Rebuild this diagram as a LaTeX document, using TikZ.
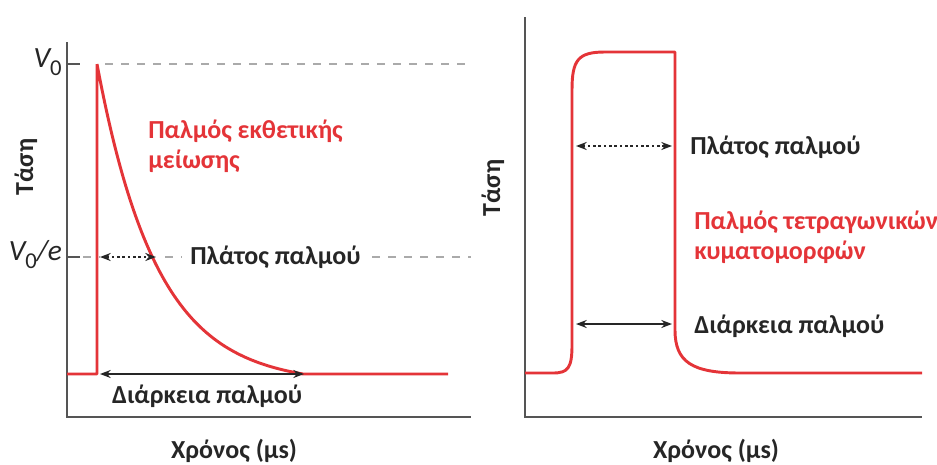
\documentclass[tikz,border=0pt]{standalone}
\usepackage{fontspec}
\setmainfont{Carlito}
\usetikzlibrary{arrows.meta}
\definecolor{pulsered}{RGB}{228,52,56}
\definecolor{axisgray}{RGB}{85,85,85}
\definecolor{dashgray}{RGB}{170,170,170}
\tikzset{
  axisline/.style={draw=axisgray,line width=1.5pt},
  refline/.style={draw=dashgray,line width=1.1pt,dash pattern=on 6pt off 6pt},
  pulse/.style={draw=pulsered,line width=2.2pt,line join=round},
  durarrow/.style={draw=black!85,line width=1.4pt,{Stealth[length=8pt,width=6pt]}-{Stealth[length=8pt,width=6pt]}},
  widarrow/.style={draw=black!85,line width=1.4pt,dash pattern=on 2pt off 2pt,{Stealth[length=8pt,width=6pt]}-{Stealth[length=8pt,width=6pt]}},
  lbl/.style={font=\fontsize{19.5}{22}\selectfont\bfseries,text=black!85,inner sep=0pt},
  redlbl/.style={font=\fontsize{19.5}{22.5}\selectfont\bfseries,text=pulsered,inner sep=0pt,align=left},
  vlbl/.style={font=\fontsize{22}{24}\selectfont\itshape,text=black!85,inner sep=0pt},
}
\begin{document}
\begin{tikzpicture}[x=0.75pt,y=-0.75pt]
\useasboundingbox (0,0) rectangle (937,464);
% ---------- left panel ----------
\draw[refline] (105,64) -- (471,64);
\draw[refline] (67,257) -- (100,257);
\draw[refline] (165,257) -- (182,257);
\draw[refline] (372,257) -- (471,257);
\draw[axisline] (67,42) -- (67,417) -- (471,417);
\draw[axisline] (67,64) -- (80,64);
\draw[axisline] (67,257) -- (80,257);
\draw[pulse] (67,374) -- (97,374) -- (97,64)
  plot[domain=0:206,samples=80,smooth] ({97+\x},{374-310*(exp(-\x/60)-exp(-206/60))/(1-exp(-206/60))})
  -- (448,374);
\node[vlbl,anchor=east] (v0) at (62,62) {V\raisebox{-6pt}{\fontsize{17}{17}\selectfont\upshape 0}};
\node[vlbl,anchor=east] (v0e) at (62,255) {V\raisebox{-6pt}{\fontsize{17}{17}\selectfont\upshape 0}/e};
\node[lbl,rotate=90] (tasi1) at (26,167) {Τάση};
\node[redlbl,anchor=west] (exp) at (148,146) {Παλμός εκθετικής\\μείωσης};
\coordinate (la1) at (100,257);
\coordinate (la2) at (156,257);
\draw[widarrow] (la1) -- (la2);
\node[lbl,anchor=west] (plat1) at (190,257) {Πλάτος παλμού};
\coordinate (ld1) at (100,374);
\coordinate (ld2) at (304,374);
\draw[durarrow] (ld1) -- (ld2);
\node[lbl] (diar1) at (207,396) {Διάρκεια παλμού};
\node[lbl] (xron1) at (234,451) {Χρόνος (μs)};
% ---------- right panel ----------
\draw[axisline] (525,17) -- (525,417) -- (922,417);
\draw[pulse] (525,373) -- (553,373) .. controls (568,373) and (572,368) .. (572,345)
  -- (572,90) .. controls (572,60) and (578,52) .. (605,52) -- (675,52) -- (675,330)
  .. controls (675,362) and (692,373) .. (740,373) -- (922,373);
\node[lbl,rotate=90] (tasi2) at (493,188) {Τάση};
\coordinate (ra1) at (576,146);
\coordinate (ra2) at (672,146);
\draw[widarrow] (ra1) -- (ra2);
\node[lbl,anchor=west] (plat2) at (690,147) {Πλάτος παλμού};
\node[redlbl,anchor=west] (sq) at (694,237) {Παλμός τετραγωνικών\\κυματομορφών};
\coordinate (rd1) at (576,324);
\coordinate (rd2) at (672,324);
\draw[durarrow] (rd1) -- (rd2);
\node[lbl,anchor=west] (diar2) at (694,326) {Διάρκεια παλμού};
\node[lbl] (xron2) at (716,451) {Χρόνος (μs)};
\end{tikzpicture}
\end{document}
